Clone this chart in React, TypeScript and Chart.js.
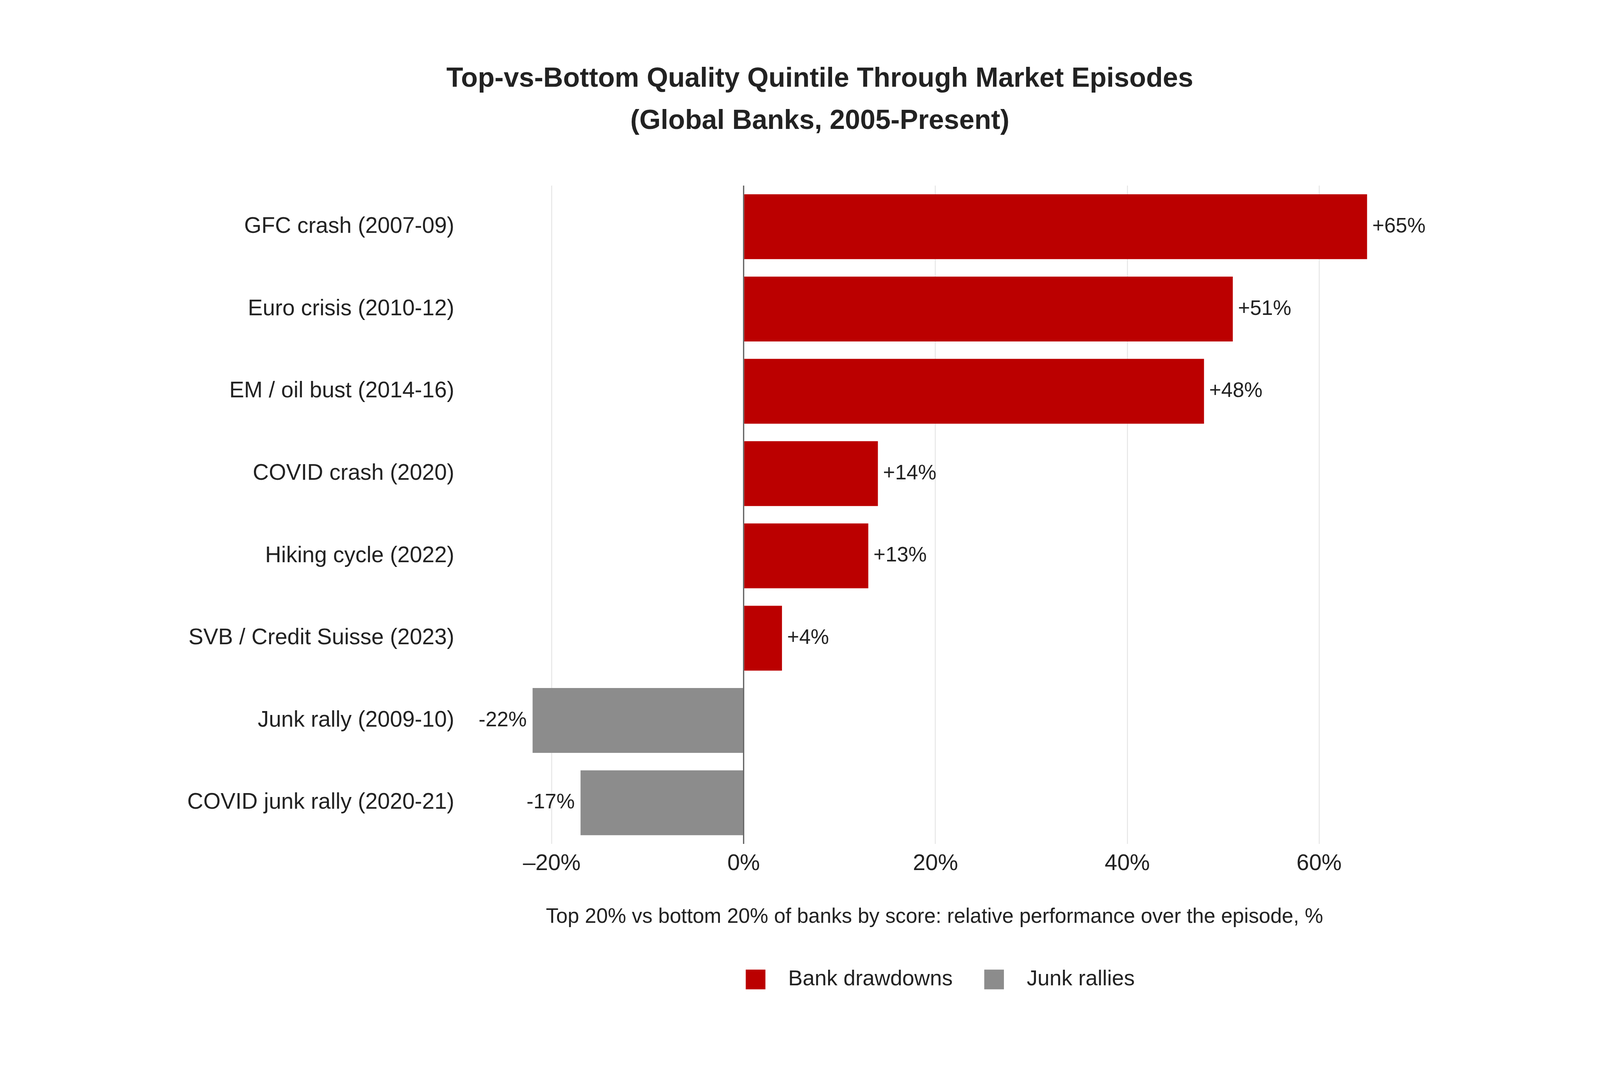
import React, { useEffect, useRef } from "react";
import { Chart, registerables } from "chart.js";

Chart.register(...registerables);

const FONT = "'Liberation Sans', Arial, Helvetica, sans-serif";

const episodes = [
  "GFC crash (2007-09)",
  "Euro crisis (2010-12)",
  "EM / oil bust (2014-16)",
  "COVID crash (2020)",
  "Hiking cycle (2022)",
  "SVB / Credit Suisse (2023)",
  "Junk rally (2009-10)",
  "COVID junk rally (2020-21)",
];
const drawdowns = [65, 51, 48, 14, 13, 4, null, null];
const junkRallies = [null, null, null, null, null, null, -22, -17];
const xTickValues = [-20, 0, 20, 40, 60];

const titleLines = [
  "Top-vs-Bottom Quality Quintile Through Market Episodes",
  "(Global Banks, 2005-Present)",
];
const xAxisTitle = "Top 20% vs bottom 20% of banks by score: relative performance over the episode, %";

const RED = "#bb0000";
const GREY = "#8c8c8c";
const TEXT = "#222222";

// layout was measured on a 4963 x 2772 page; kx / ky map it onto the real one
const BASE_W = 4963;
const BASE_H = 2772;

export default function App() {
  const boxRef = useRef<HTMLDivElement | null>(null);
  const canvasRef = useRef<HTMLCanvasElement | null>(null);

  useEffect(() => {
    if (!canvasRef.current || !boxRef.current) return;
    const W = boxRef.current.clientWidth;
    const H = boxRef.current.clientHeight;
    const kx = W / BASE_W;
    const ky = H / BASE_H;
    const fx = (v: number) => v * kx; // font sizes and horizontal things
    const fy = (v: number) => v * ky; // vertical positions

    Chart.defaults.font.family = FONT;

    const titleSize = fx(85);
    const titleLine = fy(108.5);
    const tickSize = fx(70);
    const axisTitleSize = fx(64);
    const legendSize = fx(67);
    const legendPad = fx(98);

    // bottom stack: plot ends at 2160, ticks centred at 2211, axis title 2347, legend 2507
    const tickPad = fy(51) - (tickSize * 1.2) / 2;
    const axisTitlePadBottom = fy(160) - (axisTitleSize * 1.2) / 2 - legendPad - legendSize / 2;
    const xScaleHeight = fy(2347 - 2160) + axisTitlePadBottom + (axisTitleSize * 1.2) / 2;
    const legendHeight = legendSize + legendPad + 10;
    const padBottom = H - fy(2160) - xScaleHeight - legendHeight;

    // value labels at the end of each bar
    const barLabels = {
      id: "barLabels",
      afterDatasetsDraw(chart: any) {
        const ctx = chart.ctx;
        ctx.save();
        ctx.font = `${fx(64)}px ${FONT}`;
        ctx.fillStyle = TEXT;
        ctx.textBaseline = "middle";
        chart.data.datasets.forEach((ds: any, i: number) => {
          chart.getDatasetMeta(i).data.forEach((bar: any, j: number) => {
            const v = ds.data[j];
            if (v === null || v === undefined) return;
            if (v >= 0) {
              ctx.textAlign = "left";
              ctx.fillText(`+${v}%`, bar.x + fx(16), bar.y);
            } else {
              ctx.textAlign = "right";
              ctx.fillText(`-${Math.abs(v)}%`, bar.x - fx(18), bar.y);
            }
          });
        });
        ctx.restore();
      },
    };

    const chart = new Chart(canvasRef.current, {
      type: "bar",
      data: {
        labels: episodes,
        datasets: [
          {
            label: "Bank drawdowns",
            data: drawdowns,
            backgroundColor: RED,
            grouped: false,
            categoryPercentage: 1,
            barPercentage: 0.788,
          },
          {
            label: "Junk rallies",
            data: junkRallies,
            backgroundColor: GREY,
            grouped: false,
            categoryPercentage: 1,
            barPercentage: 0.788,
          },
        ],
      } as any,
      options: {
        indexAxis: "y",
        responsive: true,
        maintainAspectRatio: false,
        animation: false,
        layout: { padding: { left: fx(667), right: fx(544), top: 0, bottom: padBottom } },
        plugins: {
          title: {
            display: true,
            text: titleLines,
            color: TEXT,
            font: { size: titleSize, weight: "bold", lineHeight: titleLine / titleSize },
            padding: { top: fy(148.25), bottom: fy(109.75) },
          },
          legend: {
            position: "bottom",
            fullSize: false,
            labels: {
              color: TEXT,
              font: { size: legendSize },
              boxWidth: fx(61),
              boxHeight: fx(61),
              padding: legendPad,
              generateLabels: (c: any) =>
                Chart.defaults.plugins.legend.labels
                  .generateLabels(c)
                  .map((l: any) => ({ ...l, text: "  " + l.text })),
            },
          },
          tooltip: { enabled: false },
        },
        scales: {
          x: {
            min: -30,
            max: 71,
            afterBuildTicks: (scale: any) => {
              scale.ticks = xTickValues.map((value) => ({ value }));
            },
            afterFit: (scale: any) => {
              scale.height = xScaleHeight;
            },
            ticks: {
              color: TEXT,
              font: { size: tickSize },
              padding: tickPad,
              callback: (v: any) => (v < 0 ? `\u2013${Math.abs(v)}%` : `${v}%`),
            },
            grid: {
              drawTicks: false,
              color: (c: any) => (c.tick && c.tick.value === 0 ? "#666666" : "#e6e6e6"),
              lineWidth: (c: any) => (c.tick && c.tick.value === 0 ? fx(4) : fx(3)),
            },
            border: { display: false },
            title: {
              display: true,
              text: xAxisTitle + "  ",
              color: TEXT,
              font: { size: axisTitleSize },
              padding: { top: 0, bottom: axisTitlePadBottom },
            },
          },
          y: {
            afterFit: (scale: any) => {
              scale.width = fx(747);
              // long category names run past the scale box, so don't clip them
              scale._computeLabelArea = () => undefined;
            },
            ticks: { color: TEXT, font: { size: fx(69) }, padding: fx(5) },
            grid: { display: false, drawTicks: false },
            border: { display: false },
          },
        },
      } as any,
      plugins: [barLabels],
    });

    return () => chart.destroy();
  }, []);

  return (
    <div
      ref={boxRef}
      style={{ position: "fixed", left: 0, top: 0, width: "100vw", height: "100vh", background: "#ffffff" }}
    >
      <canvas ref={canvasRef} />
    </div>
  );
}
